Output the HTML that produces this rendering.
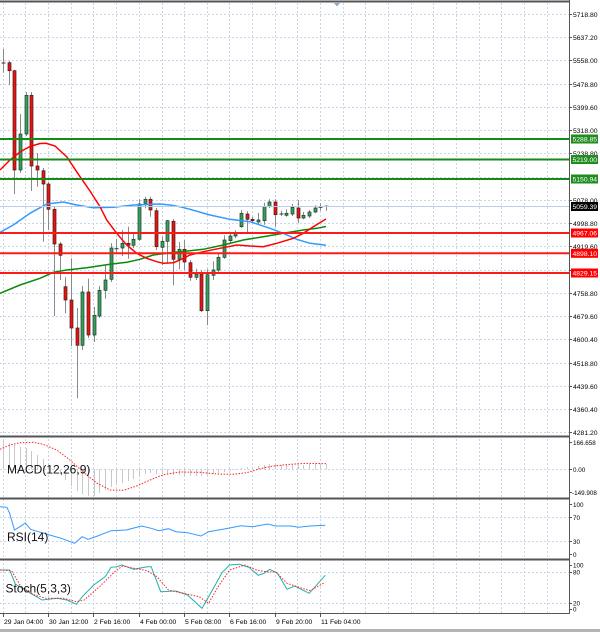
<!DOCTYPE html>
<html><head><meta charset="utf-8"><style>
html,body{margin:0;padding:0;background:#fff;}
svg{display:block;}
text{font-family:"Liberation Sans",sans-serif;fill:#000;}
text.w{fill:#fff;}
.ax{font-size:6.8px;}
.sx{font-size:6.3px;}
.lb{font-size:12px;fill:#111;}
</style></head><body>
<svg width="600" height="632" viewBox="0 0 600 632" xmlns="http://www.w3.org/2000/svg">
<rect width="600" height="632" fill="#fff"/>
<!-- vertical grid -->
<g stroke="#c8d4e8" stroke-width="1" stroke-dasharray="2,2" fill="none">
<path d="M3.5 3V613 M25.5 3V613 M48.5 3V613 M71.5 3V613 M93.5 3V613 M116.5 3V613 M139.5 3V613 M162.5 3V613 M184.5 3V613 M207.5 3V613 M229.5 3V613 M252.5 3V613 M275.5 3V613 M297.5 3V613 M320.5 3V613 M343.5 3V613 M365.5 3V613 M388.5 3V613 M411.5 3V613 M433.5 3V613 M456.5 3V613 M479.5 3V613 M501.5 3V613 M524.5 3V613 M547.5 3V613"/>
<path d="M0 14.5H569 M0 37.5H569 M0 60.5H569 M0 84.5H569 M0 107.5H569 M0 130.5H569 M0 153.5H569 M0 177.5H569 M0 200.5H569 M0 223.5H569 M0 246.5H569 M0 270.5H569 M0 293.5H569 M0 316.5H569 M0 339.5H569 M0 363.5H569 M0 386.5H569 M0 409.5H569 M0 432.5H569"/>
<path d="M0 469.5H569 M0 517.5H569 M0 541.5H569 M0 572.5H569 M0 603.5H569"/>
</g>
<!-- candle wicks -->
<path fill="none" stroke="#8a8a8a" stroke-width="1" d="M3.5 49V72.7 M9.5 61V85 M14.5 70V194 M20.5 114V173 M26.5 92V136 M31.5 92V191 M37.5 153V186.7 M43.5 168V241.7 M48.5 181.7V230 M54.5 207V316 M60.5 242V280 M65.5 277.3V313.3 M71.5 258.3V346 M77.5 308V398.3 M82.5 286V350 M88.5 278.7V338 M94.5 307V342 M99.5 286V318 M105.5 265.3V298.7 M111.5 243.3V282 M116.5 238.7V253.3 M122.5 230V256 M128.5 226.7V258.7 M133.5 232V248 M139.5 199.3V241 M145.5 196.7V208.3 M150.5 196.7V216.7 M156.5 208V250 M162.5 236.7V265.3 M167.5 220V262.7 M173.5 219V285.3 M179.5 242V269.3 M184.5 240V270 M190.5 260V280.7 M196.5 268.7V280 M201.5 270V312 M207.5 269.3V325.3 M213.5 261.3V280 M218.5 252.7V273.3 M224.5 235.3V258.7 M230.5 232.7V243.3 M235.5 230V238.3 M241.5 210V228 M247.5 211.3V232 M252.5 216.7V223.3 M258.5 212.7V224.7 M264.5 202.7V224.7 M269.5 199.3V208 M275.5 199.3V226.7 M281.5 210.7V216 M286.5 209.3V216.7 M292.5 204V216 M298.5 200V223.3 M303.5 212V219.3 M309.5 210V218 M315.5 205.3V213.3 M320.5 203.3V210.7 M326.5 205.3V210.7"/>
<!-- red bodies -->
<g fill="#f01010" stroke="#3a2020" stroke-width="0.7">
<rect x="8" y="62.7" width="3" height="8"/>
<rect x="13" y="70.7" width="3" height="99.3"/>
<rect x="30" y="95.3" width="3" height="70.7"/>
<rect x="36" y="166" width="3" height="4"/>
<rect x="42" y="170.7" width="3" height="13.3"/>
<rect x="47" y="184" width="3" height="25.3"/>
<rect x="53" y="209.3" width="3" height="34.7"/>
<rect x="59" y="244" width="3" height="11.3"/>
<rect x="64" y="286.7" width="3" height="13.3"/>
<rect x="70" y="300" width="3" height="28"/>
<rect x="76" y="328" width="3" height="17.3"/>
<rect x="87" y="292" width="3" height="43"/>
<rect x="127" y="243.3" width="3" height="2"/>
<rect x="149" y="199.3" width="3" height="10.7"/>
<rect x="155" y="210.7" width="3" height="36"/>
<rect x="172" y="221.3" width="3" height="38"/>
<rect x="183" y="249.3" width="3" height="12.7"/>
<rect x="189" y="262.7" width="3" height="14.6"/>
<rect x="200" y="274" width="3" height="36.7"/>
<rect x="246" y="214" width="3" height="5.3"/>
<rect x="251" y="219.3" width="3" height="1.4"/>
<rect x="274" y="202" width="3" height="12.7"/>
<rect x="297" y="208" width="3" height="10"/>
</g>
<!-- green bodies -->
<g fill="#34a060" stroke="#1e3a28" stroke-width="0.7">
<rect x="19" y="134" width="3" height="36"/>
<rect x="25" y="95.3" width="3" height="38.7"/>
<rect x="81" y="292" width="3" height="53.3"/>
<rect x="93" y="315.3" width="3" height="19.7"/>
<rect x="98" y="290.3" width="3" height="25.7"/>
<rect x="104" y="280" width="3" height="10.3"/>
<rect x="110" y="248" width="3" height="31.3"/>
<rect x="121" y="243.3" width="3" height="4.7"/>
<rect x="132" y="239.3" width="3" height="6"/>
<rect x="138" y="204" width="3" height="35.3"/>
<rect x="144" y="199.3" width="3" height="4"/>
<rect x="161" y="241.3" width="3" height="6"/>
<rect x="166" y="220.7" width="3" height="20.6"/>
<rect x="178" y="249.3" width="3" height="10"/>
<rect x="195" y="274" width="3" height="3.3"/>
<rect x="206" y="274.7" width="3" height="36"/>
<rect x="212" y="270" width="3" height="5.3"/>
<rect x="217" y="257.3" width="3" height="12.7"/>
<rect x="223" y="240" width="3" height="17.3"/>
<rect x="229" y="236" width="3" height="4.7"/>
<rect x="234" y="232.7" width="3" height="3.3"/>
<rect x="240" y="213.3" width="3" height="13.4"/>
<rect x="257" y="220" width="3" height="2"/>
<rect x="263" y="206.7" width="3" height="14"/>
<rect x="268" y="202" width="3" height="4.7"/>
<rect x="285" y="213.3" width="3" height="2"/>
<rect x="291" y="207.3" width="3" height="6.7"/>
<rect x="302" y="215.3" width="3" height="2.7"/>
<rect x="308" y="212" width="3" height="4"/>
<rect x="314" y="208" width="3" height="4"/>
</g>
<!-- dojis -->
<path stroke="#333" stroke-width="1" d="M1.5 63H5.5 M114.5 248.7H118.5 M279.5 214H283.5 M318.5 207.3H322.5 M324.5 206.3H328.5"/>
<!-- moving averages -->
<polyline fill="none" stroke="#3399ff" stroke-width="1.5" points="0,232.3 13.3,225 30,213.3 46.7,204 63.3,202 76.7,205 93.3,207.7 113.3,207.3 133.3,205 160,204 170,205 180,206.7 190,209.3 210,215 230,219.3 250,221.7 270,228.3 283.3,233.3 296.7,239.3 310,243.3 326,245.3"/>
<polyline fill="none" stroke="#0a8a0a" stroke-width="1.5" points="0,293.3 20,285 40,278.3 53.3,272.3 66.7,270 86.7,267.7 110,264.3 126.7,262.3 140,259.3 153.3,255 166.7,253.3 180,251.7 190,250.7 203.3,249.3 223.3,245 243.3,240 263.3,236.7 283.3,233.3 303.3,230 316.7,228.3 326,226.5"/>
<polyline fill="none" stroke="#ff0000" stroke-width="1.5" points="0,170 10,160 20,152 30,146.5 40,143.5 46,143.3 55,146 66.7,156.7 80,176.7 90,191 100,206.7 106.7,220 116.7,233.3 126.7,245 136.7,253.3 146.7,258.3 156.7,261.7 163.3,263.3 173.3,262.7 180,260 190,255 203.3,251.7 220,248.3 236.7,245 250,246 263.3,246.7 276.7,243.3 293.3,238.3 303.3,233.3 313.3,226.7 326,219"/>
<!-- horizontal levels -->
<line x1="0" y1="206.5" x2="569" y2="206.5" stroke="#b8cde6" stroke-width="1"/>
<g stroke="#168a16" stroke-width="2">
<line x1="0" y1="139" x2="569" y2="139"/>
<line x1="0" y1="159.5" x2="569" y2="159.5"/>
<line x1="0" y1="179" x2="569" y2="179"/>
</g>
<g stroke="#ff1a1a" stroke-width="2">
<line x1="0" y1="233" x2="569" y2="233"/>
<line x1="0" y1="253.3" x2="569" y2="253.3"/>
<line x1="0" y1="273" x2="569" y2="273"/>
</g>
<!-- MACD -->
<path fill="none" stroke="#c8c8c8" stroke-width="1" d="M3.5 469.3V441 M9.5 469.3V443 M14.5 469.3V445 M20.5 469.3V447 M26.5 469.3V448 M31.5 469.3V451 M37.5 469.3V455 M43.5 469.3V459 M48.5 469.3V463 M54.5 469.3V468 M60.5 469.3V474 M65.5 469.3V480 M71.5 469.3V486 M77.5 469.3V491 M82.5 469.3V494 M88.5 469.3V496 M94.5 469.3V496 M99.5 469.3V493 M105.5 469.3V490 M111.5 469.3V487 M116.5 469.3V485 M122.5 469.3V483 M128.5 469.3V481 M133.5 469.3V479 M139.5 469.3V476 M145.5 469.3V474 M150.5 469.3V473 M156.5 469.3V474 M162.5 469.3V474 M167.5 469.3V474 M173.5 469.3V475 M179.5 469.3V475 M184.5 469.3V476 M190.5 469.3V476 M196.5 469.3V476 M201.5 469.3V476 M207.5 469.3V475 M213.5 469.3V474 M218.5 469.3V473 M224.5 469.3V472 M230.5 469.3V471 M235.5 469.3V470 M241.5 469.3V468 M247.5 469.3V467 M252.5 469.3V467 M258.5 469.3V466 M264.5 469.3V465 M269.5 469.3V464 M275.5 469.3V464 M281.5 469.3V465 M286.5 469.3V465 M292.5 469.3V464 M298.5 469.3V465 M303.5 469.3V465 M309.5 469.3V464 M315.5 469.3V464 M320.5 469.3V464 M326.5 469.3V464"/>
<polyline fill="none" stroke="#ff2020" stroke-width="1" stroke-dasharray="1.5,1.5" points="0,449.3 10,445 20,442.7 33,442.3 43.3,444.3 56.7,450 70,460 83.3,472 96.7,483 110,490 123.3,490.3 136.7,486 150,480 163.3,474.7 180,472 200,472.3 216.7,474 233.3,474.3 246.7,472.7 260,468.7 273.3,466 290,464.3 306.7,463.3 326.7,463.7"/>
<!-- RSI -->
<polyline fill="none" stroke="#3399ff" stroke-width="1" points="0,506.7 6.9,507.3 9.6,513.3 14.5,530 19.9,526.7 25.3,523 30.6,529.3 38.3,531.7 49.8,535 61.2,538.3 74.6,543.3 82.3,536.7 88,539.3 97.6,536 111,530.7 126.3,530 141.6,526 151.2,528.3 158.8,530.7 168.4,528.7 176,531.7 187.5,532.7 200.9,536 208.6,531.7 225.8,528.7 241.1,525.7 252.6,526.7 267.9,524 275.5,526 290.9,526 298.5,527.3 310,526 325.3,525.3"/>
<!-- Stoch -->
<polyline fill="none" stroke="#20b2aa" stroke-width="1" points="0,570 9.6,570 15.3,584 30.6,593.3 42.1,600 57.4,598.3 67,600 76.5,604.3 82.3,596.7 93.8,585 105.2,576.7 111,567.3 116.7,566.7 121.7,565 133.9,569.3 147.3,566.7 151.2,566.7 160.7,591.7 176,591 187.5,595 202,608.3 214.3,586.7 222,572.7 229.6,565 239.2,564.3 248.8,567.3 258.3,575.3 264,573.3 269.8,569.3 277.5,573.3 287,589.3 294.7,586 309.2,593.3 325.3,575.3"/>
<polyline fill="none" stroke="#ff2020" stroke-width="1" stroke-dasharray="1.5,1.5" points="0,570 11.5,570.7 21,586.7 34.4,595 45.9,598.3 63.1,598.3 76.5,601.7 84.2,600 99.5,586.7 114.8,571.7 122.5,566 133.9,568.3 147.3,570.7 156.9,576.7 168.4,590 183.7,593.3 199,596.7 208.6,603.3 218.1,586.7 229.6,570 244.9,565 256.4,570 267.9,572 275.5,571.7 287,583.3 302.3,588.3 310,590.7 324.5,582.7"/>
<!-- indicator labels -->
<text class="lb" x="7" y="473.5">MACD(12,26,9)</text>
<text class="lb" x="7" y="541">RSI(14)</text>
<text class="lb" x="5.5" y="592.5">Stoch(5,3,3)</text>
<!-- borders -->
<g stroke="#555" fill="none">
<line x1="0" y1="1.5" x2="570" y2="1.5" stroke-width="2"/>
<line x1="0" y1="436.5" x2="570" y2="436.5" stroke-width="2"/>
<line x1="0" y1="498.5" x2="570" y2="498.5" stroke-width="2"/>
<line x1="0" y1="559.5" x2="570" y2="559.5" stroke-width="2"/>
<line x1="0" y1="613.5" x2="570" y2="613.5" stroke-width="1"/>
<line x1="569.5" y1="0" x2="569.5" y2="614" stroke-width="1"/>
</g>
<polygon points="334,3 340,3 337,6.5" fill="#8fa8c8"/>
<!-- axis ticks -->
<path stroke="#555" stroke-width="1" d="M569 14.5H572 M569 37.5H572 M569 60.5H572 M569 84.5H572 M569 107.5H572 M569 130.5H572 M569 153.5H572 M569 200.5H572 M569 223.5H572 M569 246.5H572 M569 270.5H572 M569 293.5H572 M569 316.5H572 M569 339.5H572 M569 363.5H572 M569 386.5H572 M569 409.5H572 M569 432.5H572 M569 442.5H572 M569 469.5H572 M569 492.5H572 M569 504.5H572 M569 517.5H572 M569 541.5H572 M569 554.5H572 M569 565.5H572 M569 572.5H572 M569 603.5H572 M569 609.5H572 M3.5 613V617 M48.5 613V617 M93.5 613V617 M139.5 613V617 M184.5 613V617 M229.5 613V617 M275.5 613V617 M320.5 613V617"/>
<!-- price labels -->
<g class="ax">
<text x="573" y="16.8">5718.80</text>
<text x="573" y="39.8">5637.20</text>
<text x="573" y="62.8">5558.00</text>
<text x="573" y="86.8">5478.80</text>
<text x="573" y="109.8">5399.60</text>
<text x="573" y="132.8">5318.00</text>
<text x="573" y="155.8">5238.80</text>
<text x="573" y="202.8">5078.00</text>
<text x="573" y="225.8">4998.80</text>
<text x="573" y="248.8">4919.60</text>
<text x="573" y="272.8">4838.40</text>
<text x="573" y="295.8">4758.80</text>
<text x="573" y="318.8">4679.60</text>
<text x="573" y="341.8">4600.40</text>
<text x="573" y="365.8">4518.80</text>
<text x="573" y="388.8">4439.60</text>
<text x="573" y="411.8">4360.40</text>
<text x="573" y="434.8">4281.20</text>
</g>
<!-- colored level boxes -->
<rect x="571" y="134.5" width="27" height="9" fill="#1e8c1e"/>
<rect x="571" y="155" width="27" height="9" fill="#1e8c1e"/>
<rect x="571" y="174.5" width="27" height="9" fill="#1e8c1e"/>
<rect x="571" y="202" width="27" height="9" fill="#000"/>
<rect x="571" y="228.5" width="27" height="9" fill="#ff0000"/>
<rect x="571" y="248.8" width="27" height="9" fill="#ff0000"/>
<rect x="571" y="268.5" width="27" height="9" fill="#ff0000"/>
<g class="ax">
<text class="w" x="572.5" y="141.5">5288.85</text>
<text class="w" x="572.5" y="162">5219.00</text>
<text class="w" x="572.5" y="181.5">5150.94</text>
<text class="w" x="572.5" y="209">5059.39</text>
<text class="w" x="572.5" y="235.5">4967.06</text>
<text class="w" x="572.5" y="255.8">4898.10</text>
<text class="w" x="572.5" y="275.5">4829.15</text>
</g>
<!-- sub-pane labels -->
<g class="sx">
<text x="573" y="445">166.658</text>
<text x="573" y="471.8">0.00</text>
<text x="572" y="494.8">-149.908</text>
<text x="573" y="506.8">100</text>
<text x="573" y="520">70</text>
<text x="573" y="543.8">30</text>
<text x="573" y="557">0</text>
<text x="573" y="567.3">100</text>
<text x="573" y="574.3">80</text>
<text x="573" y="605.6">20</text>
<text x="573" y="611.6">0</text>
</g>
<!-- time labels -->
<g class="sx" style="font-size:6.8px">
<text x="4" y="624">29 Jan 04:00</text>
<text x="49" y="624">30 Jan 12:00</text>
<text x="94" y="624">2 Feb 16:00</text>
<text x="140" y="624">4 Feb 00:00</text>
<text x="185" y="624">5 Feb 08:00</text>
<text x="230" y="624">6 Feb 16:00</text>
<text x="276" y="624">9 Feb 20:00</text>
<text x="321" y="624">11 Feb 04:00</text>
</g>
<rect x="0" y="629" width="600" height="3" fill="#b4b4b4"/>
</svg>
</body></html>
